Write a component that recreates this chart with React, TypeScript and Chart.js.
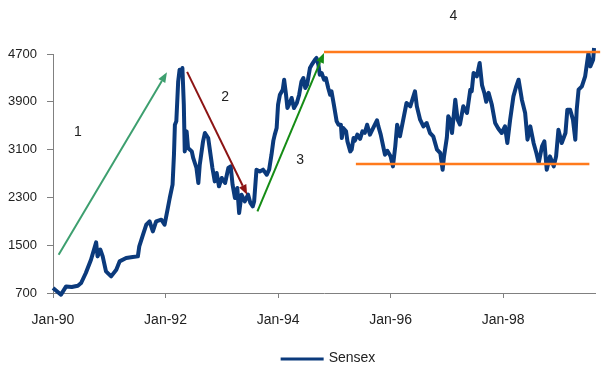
import { useEffect, useRef } from "react";
import { Chart, registerables } from "chart.js";

Chart.register(...registerables);

// Months elapsed since Jan-1990
const months = [
  0.0, 1.7, 2.8, 4.0, 5.3, 6.0, 7.0, 8.1, 9.2, 9.5, 10.1, 10.6, 11.3, 12.4, 13.5, 14.2, 15.6, 17.0, 18.1, 18.4,
  19.2, 19.9, 20.6, 21.3, 22.0, 23.1, 23.8, 24.5, 24.9, 25.5, 25.8, 26.0, 26.3, 26.7, 27.0, 27.4, 27.6, 27.9, 28.1, 28.5,
  28.8, 29.6, 29.9, 30.6, 31.0, 31.3, 32.0, 32.4, 33.1, 33.5, 34.0, 34.5, 34.9, 35.4, 36.0, 36.7, 37.4, 37.9, 38.3, 38.8,
  39.3, 39.7, 40.2, 40.9, 41.6, 42.1, 42.6, 42.9, 43.4, 44.1, 44.8, 45.6, 46.1, 46.6, 47.0, 47.3, 47.7, 48.0, 48.4, 49.0,
  49.3, 49.7, 50.0, 50.5, 50.9, 51.4, 52.0, 52.5, 53.0, 53.4, 53.8, 54.2, 54.8, 55.2, 55.9, 56.2, 56.6, 56.9, 57.3, 57.8,
  58.2, 58.7, 59.1, 59.4, 59.9, 60.5, 60.9, 61.4, 61.6, 61.9, 62.5, 62.8, 63.4, 63.7, 64.1, 64.4, 64.9, 65.5, 66.0, 66.5,
  67.0, 67.6, 68.3, 69.1, 69.4, 69.9, 70.5, 70.8, 71.3, 72.0, 72.5, 73.0, 73.4, 74.0, 74.7, 75.4, 76.2, 77.2, 77.6, 78.3,
  79.0, 79.7, 80.4, 81.1, 81.9, 82.6, 83.1, 83.4, 84.0, 84.3, 84.7, 85.1, 85.8, 86.3, 86.8, 87.5, 88.3, 89.0, 89.3, 89.7,
  90.4, 91.0, 91.5, 92.0, 92.4, 92.9, 93.6, 94.3, 95.0, 95.7, 96.4, 96.9, 97.5, 98.2, 98.8, 99.3, 100.0, 100.7, 101.2, 101.8,
  102.5, 103.1, 103.6, 104.3, 104.8, 105.3, 106.0, 106.8, 107.3, 107.8, 108.5, 109.3, 109.7, 110.3, 110.9, 111.4, 111.7, 112.1, 112.8, 113.5,
  113.9, 114.2, 114.6, 115.2, 115.4,
];

const sensex = [
  784, 672, 810, 800, 822, 867, 1035, 1257, 1547, 1313, 1425, 1313, 1062, 978, 1090, 1229, 1286, 1303, 1313, 1480,
  1676, 1843, 1899, 1731, 1899, 1927, 1843, 2123, 2290, 2513, 3015, 3517, 3573, 4242, 4438, 4354, 4466, 3852, 3070, 3405,
  3127, 3070, 2960, 2792, 2541, 2848, 3238, 3378, 3294, 3070, 2792, 2568, 2709, 2485, 2625, 2541, 2792, 2819, 2513, 2290,
  2458, 2039, 2346, 2234, 2346, 2207, 2150, 2234, 2764, 2735, 2764, 2680, 2764, 3015, 3250, 3350, 3462, 3852, 4019, 4103,
  4270, 4019, 3796, 3880, 3964, 3796, 3880, 4019, 4242, 4298, 4131, 4187, 4466, 4522, 4606, 4634, 4522, 4354, 4382, 4270,
  4298, 4131, 4019, 4075, 3852, 3573, 3517, 3517, 3294, 3462, 3406, 3238, 3070, 3100, 3294, 3250, 3350, 3280, 3406, 3380,
  3517, 3350, 3462, 3590, 3489, 3350, 3127, 3015, 3080, 2987, 2819, 3154, 3517, 3322, 3601, 3880, 3824, 4075, 3824, 3601,
  3489, 3545, 3378, 3322, 3100, 3043, 2764, 2987, 3300, 3657, 3601, 3378, 3936, 3601, 3520, 3824, 3713, 4103, 4075, 4382,
  4326, 4550, 4180, 4048, 3900, 4050, 3850, 3545, 3450, 3378, 3489, 3211, 3601, 3991, 4159, 4270, 3936, 3713, 3266, 3489,
  3211, 3043, 2876, 3154, 3238, 2764, 2987, 2819, 2987, 3434, 3211, 3378, 3768, 3768, 3601, 3266, 3768, 4103, 4159, 4326,
  4550, 4718, 4493, 4606, 4801,
];

const xTickMonths = [0, 24, 48, 72, 96];
const xTickLabels = ["Jan-90", "Jan-92", "Jan-94", "Jan-96", "Jan-98"];
const yTickValues = [700, 1500, 2300, 3100, 3900, 4700];
const yTickLabels = ["700", "1500", "2300", "3100", "3900", "4700"];
const seriesLabel = "Sensex";

// Annotations in data units: [month, index level]
const arrowStarts = [[1.2, 1341], [28.6, 4400], [43.6, 2066]];
const arrowEnds = [[24.3, 4393], [41.4, 2345], [57.8, 4718]];
const arrowColors = ["#3d9f6f", "#8c1414", "#158c15"];
const bandStarts = [[57.8, 4734], [64.6, 2860]];
const bandEnds = [[116.7, 4734], [114.4, 2860]];
const phaseTexts = ["1", "2", "3", "4"];
const phasePositions = [[5.3, 3388], [36.7, 3974], [52.7, 2931], [85.4, 5330]];

const FONT = "'Liberation Sans', Arial, sans-serif";
const LINE_COLOR = "#0b3a7c";

const annotationPlugin = {
  id: "phaseAnnotations",
  afterDatasetsDraw(chart: any) {
    const { ctx } = chart;
    const xs = chart.scales.x;
    const ys = chart.scales.y;
    const px = (p: number[]) => [xs.getPixelForValue(p[0]), ys.getPixelForValue(p[1])];
    ctx.save();
    ctx.strokeStyle = "#ff7a1c";
    ctx.lineWidth = 2.5;
    for (let i = 0; i < bandStarts.length; i++) {
      const [x1, y1] = px(bandStarts[i]);
      const [x2, y2] = px(bandEnds[i]);
      ctx.beginPath();
      ctx.moveTo(x1, y1);
      ctx.lineTo(x2, y2);
      ctx.stroke();
    }
    for (let i = 0; i < arrowStarts.length; i++) {
      const [x1, y1] = px(arrowStarts[i]);
      const [x2, y2] = px(arrowEnds[i]);
      const ang = Math.atan2(y2 - y1, x2 - x1);
      const headLen = 10;
      const headHalf = 4;
      const bx = x2 - headLen * Math.cos(ang);
      const by = y2 - headLen * Math.sin(ang);
      ctx.strokeStyle = arrowColors[i];
      ctx.fillStyle = arrowColors[i];
      ctx.lineWidth = 2;
      ctx.beginPath();
      ctx.moveTo(x1, y1);
      ctx.lineTo(bx, by);
      ctx.stroke();
      ctx.beginPath();
      ctx.moveTo(x2, y2);
      ctx.lineTo(bx + headHalf * Math.sin(ang), by - headHalf * Math.cos(ang));
      ctx.lineTo(bx - headHalf * Math.sin(ang), by + headHalf * Math.cos(ang));
      ctx.closePath();
      ctx.fill();
    }
    ctx.fillStyle = "#222";
    ctx.font = `14px ${FONT}`;
    ctx.textAlign = "center";
    ctx.textBaseline = "middle";
    for (let i = 0; i < phaseTexts.length; i++) {
      const [x, y] = px(phasePositions[i]);
      ctx.fillText(phaseTexts[i], x, y);
    }
    ctx.restore();
  },
  afterDraw(chart: any) {
    const { ctx } = chart;
    const ds = chart.data.datasets[0];
    ctx.save();
    ctx.font = `14px ${FONT}`;
    const tw = ctx.measureText(ds.label).width;
    const lineW = 43;
    const gap = 5;
    const total = lineW + gap + tw;
    const cx = chart.width / 2 + 20;
    const cy = 359;
    const left = cx - total / 2;
    ctx.strokeStyle = ds.borderColor;
    ctx.lineWidth = 3;
    ctx.beginPath();
    ctx.moveTo(left, cy);
    ctx.lineTo(left + lineW, cy);
    ctx.stroke();
    ctx.fillStyle = "#222";
    ctx.textAlign = "left";
    ctx.textBaseline = "middle";
    ctx.fillText(ds.label, left + lineW + gap, cy - 1);
    ctx.restore();
  },
};

export default function App() {
  const ref = useRef<HTMLCanvasElement | null>(null);

  useEffect(() => {
    document.body.style.margin = "0";
    if (!ref.current) return;
    const points = months.map((m, i) => ({ x: m, y: sensex[i] }));
    const chart = new Chart(ref.current, {
      type: "line",
      data: {
        datasets: [
          {
            label: seriesLabel,
            data: points,
            borderColor: LINE_COLOR,
            backgroundColor: LINE_COLOR,
            borderWidth: 4,
            pointRadius: 0,
            tension: 0,
            clip: false as any,
            borderJoinStyle: "round",
          },
        ],
      },
      options: {
        animation: false,
        responsive: true,
        maintainAspectRatio: false,
        layout: { padding: { top: 54, right: 21, bottom: 0, left: 0 } },
        plugins: { legend: { display: false }, tooltip: { enabled: false } },
        scales: {
          x: {
            type: "linear",
            min: 0,
            max: 115.6,
            afterFit: (s: any) => {
              s.height = 73;
            },
            afterBuildTicks: (s: any) => {
              s.ticks = xTickMonths.map((v) => ({ value: v }));
            },
            ticks: {
              callback: (v: any) => xTickLabels[xTickMonths.indexOf(Number(v))] ?? "",
              color: "#222",
              font: { family: FONT, size: 14 },
              padding: 14,
              maxRotation: 0,
              autoSkip: false,
            },
            grid: { drawOnChartArea: false, drawTicks: true, tickLength: 5, color: "#808080" },
            border: { color: "#808080", width: 1 },
          },
          y: {
            min: 700,
            max: 4700,
            afterFit: (s: any) => {
              s.width = 53;
            },
            afterBuildTicks: (s: any) => {
              s.ticks = yTickValues.map((v) => ({ value: v }));
            },
            ticks: {
              callback: (v: any) => yTickLabels[yTickValues.indexOf(Number(v))] ?? "",
              color: "#222",
              font: { family: FONT, size: 13 },
              padding: 10,
            },
            grid: { drawOnChartArea: false, drawTicks: true, tickLength: 6, color: "#808080" },
            border: { color: "#808080", width: 1 },
          },
        },
      },
      plugins: [annotationPlugin],
    });
    return () => chart.destroy();
  }, []);

  return (
    <div style={{ width: 616, height: 366, position: "relative" }}>
      <canvas ref={ref} />
    </div>
  );
}
